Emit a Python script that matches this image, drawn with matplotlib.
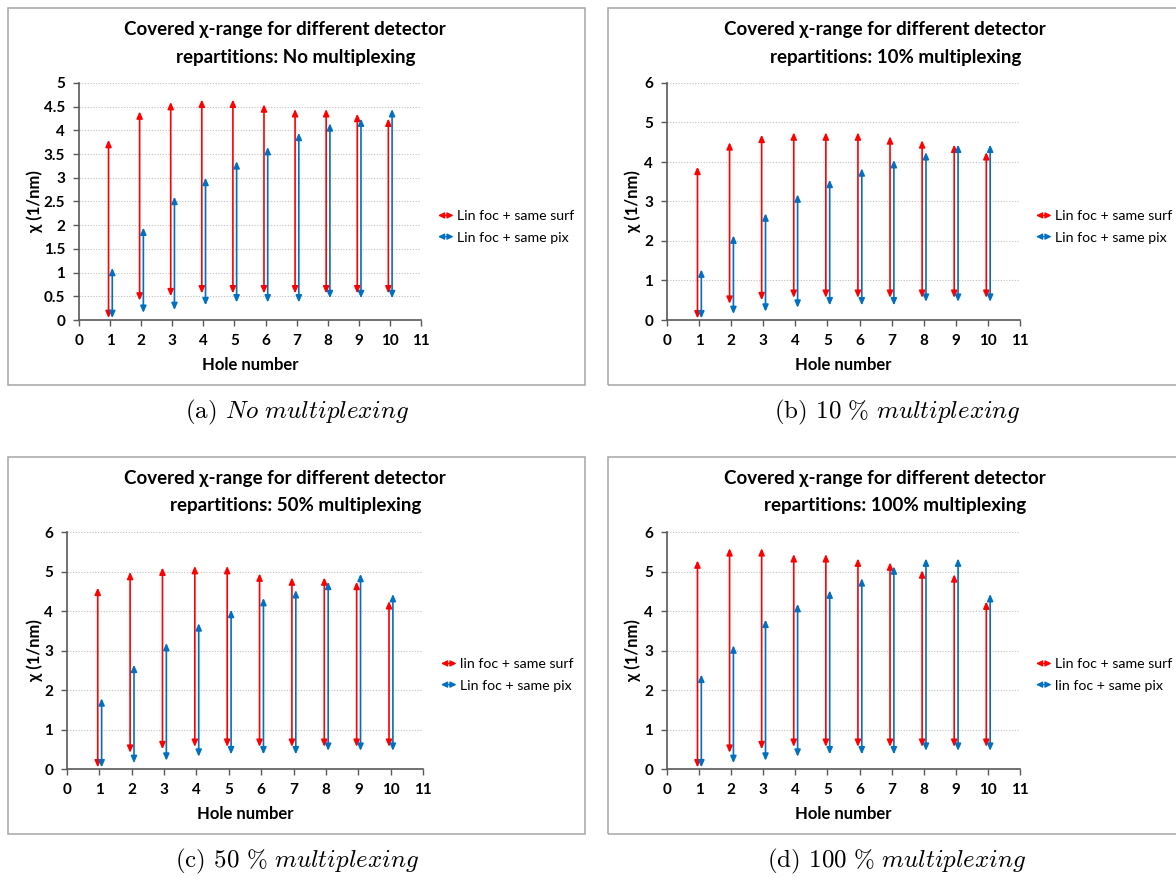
import matplotlib
matplotlib.use('Agg')
import matplotlib.pyplot as plt
from matplotlib.patches import Rectangle, FancyArrowPatch
from matplotlib.legend_handler import HandlerBase
from matplotlib.lines import Line2D

plt.rcParams['mathtext.fontset'] = 'cm'

# ---------------- data ----------------
holes = [1, 2, 3, 4, 5, 6, 7, 8, 9, 10]
red_bottom = [0.04, 0.41, 0.5, 0.56, 0.56, 0.56, 0.56, 0.56, 0.56, 0.56]
blue_bottom = [0.04, 0.15, 0.21, 0.31, 0.37, 0.37, 0.37, 0.46, 0.46, 0.46]

red_top_a = [3.8, 4.4, 4.6, 4.65, 4.65, 4.55, 4.45, 4.45, 4.35, 4.25]
blue_top_a = [1.1, 1.95, 2.6, 3.0, 3.35, 3.65, 3.95, 4.15, 4.25, 4.45]

red_top_b = [3.88, 4.5, 4.69, 4.75, 4.75, 4.75, 4.65, 4.55, 4.44, 4.25]
blue_top_b = [1.28, 2.14, 2.7, 3.18, 3.55, 3.84, 4.05, 4.25, 4.44, 4.44]

red_top_c = [4.59, 4.99, 5.1, 5.14, 5.14, 4.95, 4.85, 4.85, 4.74, 4.25]
blue_top_c = [1.79, 2.64, 3.19, 3.69, 4.03, 4.33, 4.53, 4.74, 4.94, 4.43]

red_top_d = [5.28, 5.59, 5.59, 5.44, 5.44, 5.33, 5.23, 5.03, 4.93, 4.24]
blue_top_d = [2.39, 3.13, 3.78, 4.18, 4.52, 4.83, 5.13, 5.33, 5.33, 4.43]

titles = ["Covered \u03c7-range for different detector\nrepartitions: No multiplexing",
          "Covered \u03c7-range for different detector\nrepartitions: 10% multiplexing",
          "Covered \u03c7-range for different detector\nrepartitions: 50% multiplexing",
          "Covered \u03c7-range for different detector\nrepartitions: 100% multiplexing"]
captions = [("(a)", r"$\mathit{No\ multiplexing}$"),
            ("(b)", r"$\mathit{10\ \%\ multiplexing}$"),
            ("(c)", r"$\mathit{50\ \%\ multiplexing}$"),
            ("(d)", r"$\mathit{100\ \%\ multiplexing}$")]
legend_labels = [("Lin foc + same surf", "Lin foc + same pix"),
                 ("Lin foc + same surf", "Lin foc + same pix"),
                 ("lin foc + same surf", "Lin foc + same pix"),
                 ("Lin foc + same surf", "lin foc + same pix")]
ymax_list = [5, 6, 6, 6]
ystep_list = [0.5, 1, 1, 1]
xlabel = "Hole number"
ylabel = "\u03c7 (1/nm)"

RED = '#FF0000'
BLUE = '#0070C0'
W, H = 1176, 880
ARROW = '<|-|>,head_length=0.5,head_width=0.22'


def fx(px):
    return px / W


def fy(py):
    return 1 - py / H


class HandlerDoubleArrow(HandlerBase):
    def create_artists(self, legend, orig_handle, xdescent, ydescent,
                       width, height, fontsize, trans):
        y = height / 2 - ydescent
        arr = FancyArrowPatch((-xdescent, y), (-xdescent + width, y),
                              arrowstyle='<|-|>,head_length=0.45,head_width=0.22',
                              mutation_scale=8, color=orig_handle.get_color(),
                              lw=1.0, shrinkA=0, shrinkB=0, transform=trans)
        return [arr]


fig = plt.figure(figsize=(11.76, 8.8), dpi=100)

layouts = [
    dict(box=(8, 8, 585, 385), ax=(79, 83, 421, 320), leg=(438, 227), ylab=35, cap=(297, 412)),
    dict(box=(608, 8, 1190, 385), ax=(667, 83, 1020, 320), leg=(1036, 227), ylab=633, cap=(897, 412)),
    dict(box=(8, 457, 585, 834), ax=(67, 532, 423, 769), leg=(441, 675), ylab=35, cap=(297, 861)),
    dict(box=(608, 457, 1190, 834), ax=(667, 532, 1020, 769), leg=(1036, 675), ylab=633, cap=(897, 861)),
]
reds = [red_top_a, red_top_b, red_top_c, red_top_d]
blues = [blue_top_a, blue_top_b, blue_top_c, blue_top_d]

for i, lay in enumerate(layouts):
    bl, bt, br, bb = lay['box']
    fig.add_artist(Rectangle((fx(bl), fy(bb)), fx(br - bl), (bb - bt) / H,
                             transform=fig.transFigure, fill=False,
                             edgecolor='#A6A6A6', lw=1.1))
    al, at, ar, ab = lay['ax']
    ax = fig.add_axes([fx(al), fy(ab), fx(ar - al), (ab - at) / H])
    ymax = ymax_list[i]
    step = ystep_list[i]
    ax.set_xlim(0, 11)
    ax.set_ylim(0, ymax)
    xt = list(range(0, 12))
    ax.set_xticks(xt)
    ax.set_xticklabels([str(v) for v in xt])
    n = int(round(ymax / step))
    yt = [k * step for k in range(n + 1)]
    ax.set_yticks(yt)
    ax.set_yticklabels([('%g' % v) for v in yt])
    for lab in ax.get_xticklabels() + ax.get_yticklabels():
        lab.set_fontfamily('Lato')
        lab.set_fontweight('bold')
        lab.set_fontsize(11)
    ax.tick_params(axis='both', direction='out', length=4, width=1,
                   color='#595959', pad=6)
    for s in ['top', 'right']:
        ax.spines[s].set_visible(False)
    for s in ['left', 'bottom']:
        ax.spines[s].set_color('#595959')
        ax.spines[s].set_linewidth(1.2)
    for v in yt[1:]:
        ax.axhline(v, color='#BFBFBF', lw=0.8, ls=(0, (1, 1.5)), zorder=0)
    ax.set_facecolor('none')

    for h, rb, rt, bbm, btp in zip(holes, red_bottom, reds[i], blue_bottom, blues[i]):
        ax.add_patch(FancyArrowPatch((h - 0.05, rb), (h - 0.05, rt),
                                     arrowstyle=ARROW, mutation_scale=8,
                                     color=RED, lw=1.2, shrinkA=0, shrinkB=0,
                                     clip_on=False))
        ax.add_patch(FancyArrowPatch((h + 0.07, bbm), (h + 0.07, btp),
                                     arrowstyle=ARROW, mutation_scale=8,
                                     color=BLUE, lw=1.2, shrinkA=0, shrinkB=0,
                                     clip_on=False))

    # title
    l1, l2 = titles[i].split('\n')
    cx = (bl + min(br, 1185)) / 2
    fig.text(fx(cx - 12), fy(bt + 21), l1, ha='center', va='center',
             fontfamily='Lato', fontweight='bold', fontsize=13.5)
    fig.text(fx(cx - 1), fy(bt + 49), l2, ha='center', va='center',
             fontfamily='Lato', fontweight='bold', fontsize=13.5)
    # axis labels
    fig.text(fx(lay['ylab']), fy((at + ab) / 2), ylabel, rotation=90,
             ha='center', va='center', fontfamily='Lato', fontweight='bold',
             fontsize=12)
    fig.text(fx((al + ar) / 2), fy(ab + 45), xlabel, ha='center', va='center',
             fontfamily='Lato', fontweight='bold', fontsize=12)
    # legend
    handles = [Line2D([], [], color=RED), Line2D([], [], color=BLUE)]
    lx, ly = lay['leg']
    fig.legend(handles, list(legend_labels[i]), loc='center left',
               bbox_to_anchor=(fx(lx), fy(ly)), frameon=False,
               handler_map={Line2D: HandlerDoubleArrow()},
               handlelength=1.1, handletextpad=0.25, labelspacing=0.65,
               borderaxespad=0, borderpad=0,
               prop={'family': 'Lato', 'size': 10.2})
    # caption
    cxp, cyp = lay['cap']
    tag, body = captions[i]
    fig.text(fx(cxp), fy(cyp), tag + ' ' + body, ha='center', va='center',
             fontfamily='cmr10', fontsize=18)

fig.savefig('out.png', dpi=100)
